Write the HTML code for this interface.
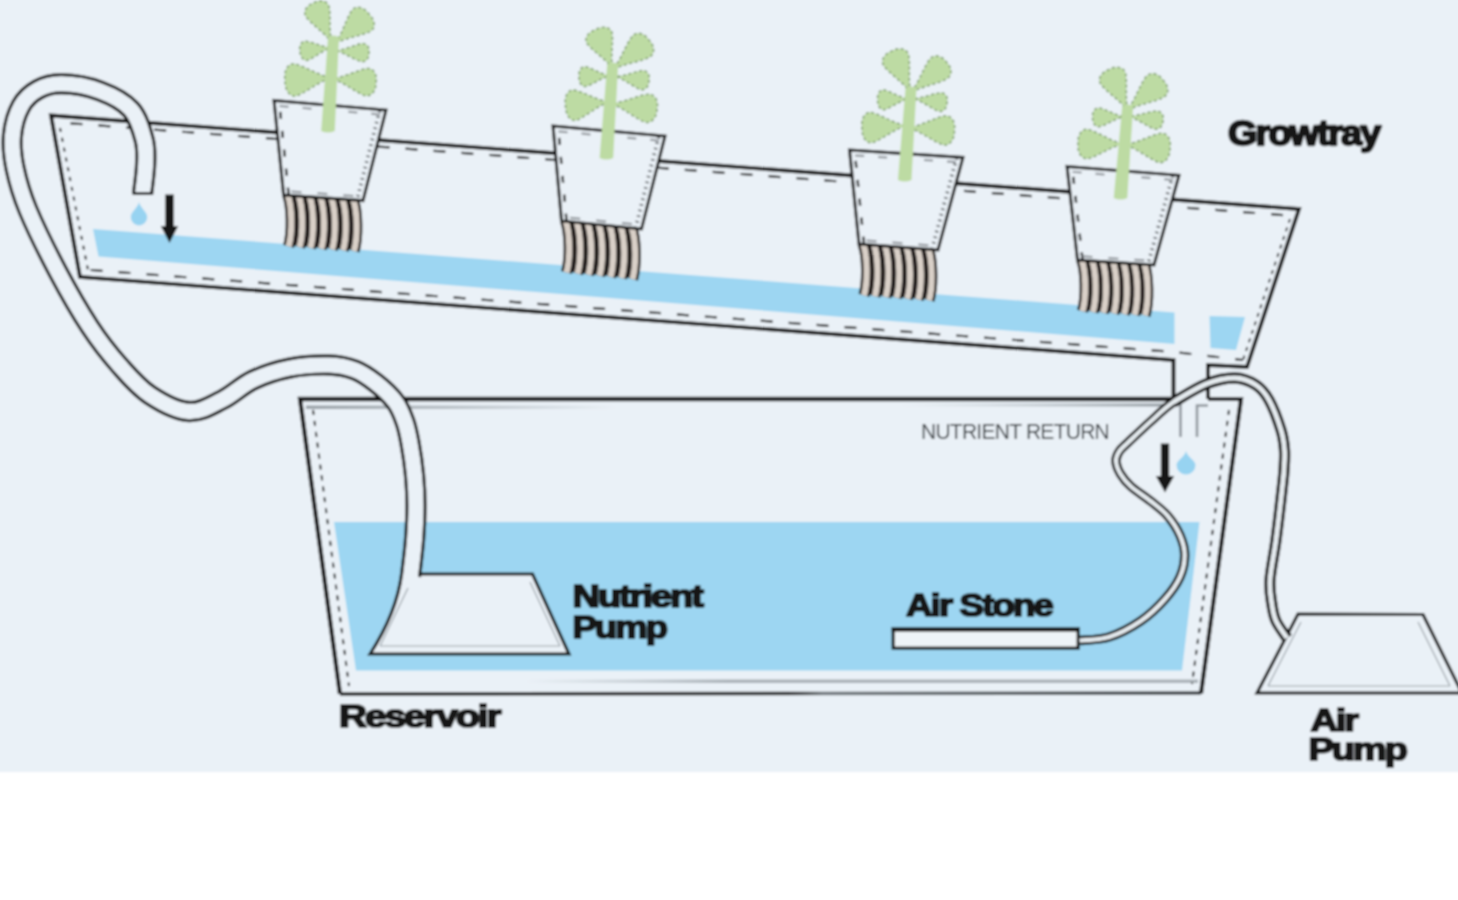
<!DOCTYPE html>
<html lang="en">
<head>
<meta charset="utf-8">
<title>NFT Hydroponic System Diagram</title>
<style>
html,body{margin:0;padding:0;background:#ffffff;}
body{width:1458px;height:900px;overflow:hidden;position:relative;}
svg{position:absolute;left:0;top:0;display:block;}
text{font-family:"Liberation Sans",sans-serif;}
</style>
</head>
<body>
<svg width="1458" height="900" viewBox="0 0 1458 900">
<filter id="soft" filterUnits="userSpaceOnUse" x="-40" y="-40" width="1540" height="980"><feGaussianBlur stdDeviation="0.95"/></filter>
<g filter="url(#soft)">
<rect x="-30" y="-30" width="1518" height="802" fill="#eaf1f7"/>
<polygon points="334,522 1199.5,522 1182,670.5 356,670.5" fill="#9dd6f2"/>
<defs><linearGradient id="g1" x1="0" x2="1"><stop offset="0" stop-color="#9aa2a8"/><stop offset="0.45" stop-color="#b9c1c7"/><stop offset="1" stop-color="#b9c1c7" stop-opacity="0"/></linearGradient><linearGradient id="g2" x1="0" x2="1"><stop offset="0" stop-color="#b9c1c7" stop-opacity="0"/><stop offset="1" stop-color="#8f979d"/></linearGradient><linearGradient id="g3" x1="0" x2="1"><stop offset="0" stop-color="#b9c1c7" stop-opacity="0"/><stop offset="0.3" stop-color="#aab2b8"/><stop offset="1" stop-color="#aab2b8"/></linearGradient><linearGradient id="g4" x1="0" x2="1"><stop offset="0" stop-color="#1c1c1c"/><stop offset="0.52" stop-color="#1c1c1c"/><stop offset="0.56" stop-color="#70777c"/><stop offset="1" stop-color="#3a3f43"/></linearGradient></defs>
<rect x="306" y="405.5" width="310" height="3.5" fill="url(#g1)"/>
<rect x="900" y="403.5" width="272" height="3" fill="url(#g2)"/>
<rect x="526" y="679.5" width="672" height="3.5" fill="url(#g3)"/>
<path d="M1173.5 399 L300 399 L340 694" fill="none" stroke="#141414" stroke-width="4.3" stroke-linejoin="miter"/>
<path d="M340 694 L1201 693" fill="none" stroke="url(#g4)" stroke-width="3.4"/>
<path d="M1201 693.5 L1241 399 L1208 399" fill="none" stroke="#141414" stroke-width="4.2" stroke-linejoin="miter"/>
<path d="M313 410 L349 686" fill="none" stroke="#141414" stroke-width="2" stroke-dasharray="5 6"/>
<path d="M1229 410 L1192 684" fill="none" stroke="#141414" stroke-width="2" stroke-dasharray="5 6"/>
<polygon points="93,229 1174.5,312.5 1174.5,344 98.5,256.5" fill="#9dd6f2"/>
<polygon points="1209.5,316 1245,317 1236,350 1210.5,348" fill="#9dd6f2"/>
<path d="M1173.5 399 L1173.5 360 L80 277 L51 115.5 L1299 209 L1247 367 L1208 365 L1208 399" fill="none" stroke="#141414" stroke-width="3.9" stroke-linejoin="miter"/>
<path d="M62.5 122.7 L1284.5 215.2" fill="none" stroke="#141414" stroke-width="2.2" stroke-dasharray="12 16" stroke-dashoffset="-8"/>
<path d="M90.6 270.0 L1174.1 352.0 L1243 360" fill="none" stroke="#141414" stroke-width="2.2" stroke-dasharray="12 16"/>
<path d="M60 128 L88 270" fill="none" stroke="#141414" stroke-width="2" stroke-dasharray="4 6"/>
<path d="M1290 219 L1243 360" fill="none" stroke="#141414" stroke-width="1.8" stroke-dasharray="4 5"/>
<path d="M1180.5 400 V437 M1197 437 V405.5 H1208" fill="none" stroke="#8e959b" stroke-width="2.6"/>
<path d="M287.6 194.4 C292.1 206.4 292.6 232.4 288.6 246.4" fill="none" stroke="#241f1b" stroke-width="11.4"/>
<path d="M287.6 194.4 C292.1 206.4 292.6 232.4 288.6 246.4" fill="none" stroke="#d9d0c8" stroke-width="6"/>
<path d="M298.5 195.1 C303.0 207.1 303.5 233.1 299.5 247.1" fill="none" stroke="#241f1b" stroke-width="11.4"/>
<path d="M298.5 195.1 C303.0 207.1 303.5 233.1 299.5 247.1" fill="none" stroke="#d9d0c8" stroke-width="6"/>
<path d="M309.4 195.9 C313.9 207.9 314.4 233.9 310.4 247.9" fill="none" stroke="#241f1b" stroke-width="11.4"/>
<path d="M309.4 195.9 C313.9 207.9 314.4 233.9 310.4 247.9" fill="none" stroke="#d9d0c8" stroke-width="6"/>
<path d="M320.3 196.7 C324.8 208.7 325.3 234.7 321.3 248.7" fill="none" stroke="#241f1b" stroke-width="11.4"/>
<path d="M320.3 196.7 C324.8 208.7 325.3 234.7 321.3 248.7" fill="none" stroke="#d9d0c8" stroke-width="6"/>
<path d="M331.2 197.4 C335.7 209.4 336.2 235.4 332.2 249.4" fill="none" stroke="#241f1b" stroke-width="11.4"/>
<path d="M331.2 197.4 C335.7 209.4 336.2 235.4 332.2 249.4" fill="none" stroke="#d9d0c8" stroke-width="6"/>
<path d="M342.1 198.2 C346.6 210.2 347.1 236.2 343.1 250.2" fill="none" stroke="#241f1b" stroke-width="11.4"/>
<path d="M342.1 198.2 C346.6 210.2 347.1 236.2 343.1 250.2" fill="none" stroke="#d9d0c8" stroke-width="6"/>
<path d="M353.0 199.0 C357.5 211.0 358.0 237.0 354.0 251.0" fill="none" stroke="#241f1b" stroke-width="11.4"/>
<path d="M353.0 199.0 C357.5 211.0 358.0 237.0 354.0 251.0" fill="none" stroke="#d9d0c8" stroke-width="6"/>
<polygon points="274.0,100.4 386.0,110.0 363.0,200.6 283.6,195.0" fill="#eaf1f7" stroke="#141414" stroke-width="3" stroke-linejoin="miter"/>
<path d="M273.6 105.4 L385.6 115.0" fill="none" stroke="#8a8f94" stroke-width="2" stroke-dasharray="9 14" stroke-dashoffset="-6"/>
<path d="M288.6 194.5 L279.0 99.9" fill="none" stroke="#141414" stroke-width="2.4" stroke-dasharray="7 12"/>
<path d="M380.2 108.5 L357.2 199.1" fill="none" stroke="#4a4d50" stroke-width="3.6" stroke-dasharray="1.6 4.2" stroke-dashoffset="-8"/>
<path d="M363.3 196.6 L283.9 191.0" fill="none" stroke="#8a8f94" stroke-width="2" stroke-dasharray="10 16" stroke-dashoffset="-10"/>
<path d="M331.3 41.9 C329.1 28.5 330.8 16.8 329.2 7.2 C327.5 0.0 319.4 -0.6 313.5 3.0 C306.9 5.1 302.1 11.7 306.4 17.6 C312.7 25.2 322.7 31.5 331.3 41.9Z" fill="#bddba3" stroke="#7f9f6c" stroke-width="1.6" stroke-dasharray="3 2.6"/>
<path d="M335.5 43.2 C348.3 37.2 360.9 35.9 370.1 31.6 C376.8 28.0 374.7 19.3 369.0 14.0 C364.6 7.7 356.2 4.3 351.7 10.5 C346.1 19.1 343.2 31.3 335.5 43.2Z" fill="#bddba3" stroke="#7f9f6c" stroke-width="1.6" stroke-dasharray="3 2.6"/>
<path d="M330.2 47.7 C320.7 46.2 313.1 42.2 306.1 41.2 C300.9 40.7 298.8 46.4 300.0 51.5 C300.1 56.8 303.6 61.8 308.5 60.0 C314.9 57.3 321.3 51.5 330.2 47.7Z" fill="#bddba3" stroke="#7f9f6c" stroke-width="1.6" stroke-dasharray="3 2.6"/>
<path d="M336.6 50.8 C346.3 54.0 353.5 59.2 360.6 61.5 C365.9 62.9 369.3 58.0 369.0 53.0 C369.9 48.1 367.3 42.8 361.8 43.5 C354.5 44.8 346.7 49.0 336.6 50.8Z" fill="#bddba3" stroke="#7f9f6c" stroke-width="1.6" stroke-dasharray="3 2.6"/>
<path d="M330.4 77.8 C316.2 74.2 305.2 66.5 295.0 63.9 C287.3 62.4 283.6 71.8 285.0 80.5 C284.7 89.3 289.4 98.2 296.9 95.8 C306.8 92.0 316.8 83.1 330.4 77.8Z" fill="#bddba3" stroke="#7f9f6c" stroke-width="1.6" stroke-dasharray="3 2.6"/>
<path d="M332.8 78.7 C345.6 83.8 354.9 91.7 364.3 95.4 C371.3 97.7 376.1 90.5 376.0 83.0 C377.5 75.7 374.3 67.6 366.9 68.5 C357.1 70.3 346.4 76.2 332.8 78.7Z" fill="#bddba3" stroke="#7f9f6c" stroke-width="1.6" stroke-dasharray="3 2.6"/>
<path d="M321.2 131.0 L328.0 37.0 Q333.5 34.0 339.0 37.0 L334.8 131.0 Q328.0 134.0 321.2 131.0 Z" fill="#bddba3"/>
<path d="M565.5 220.5 C570.0 232.5 570.5 258.5 566.5 272.5" fill="none" stroke="#241f1b" stroke-width="11.4"/>
<path d="M565.5 220.5 C570.0 232.5 570.5 258.5 566.5 272.5" fill="none" stroke="#d9d0c8" stroke-width="6"/>
<path d="M576.5 221.6 C581.0 233.6 581.5 259.6 577.5 273.6" fill="none" stroke="#241f1b" stroke-width="11.4"/>
<path d="M576.5 221.6 C581.0 233.6 581.5 259.6 577.5 273.6" fill="none" stroke="#d9d0c8" stroke-width="6"/>
<path d="M587.5 222.7 C592.0 234.7 592.5 260.7 588.5 274.7" fill="none" stroke="#241f1b" stroke-width="11.4"/>
<path d="M587.5 222.7 C592.0 234.7 592.5 260.7 588.5 274.7" fill="none" stroke="#d9d0c8" stroke-width="6"/>
<path d="M598.5 223.8 C603.0 235.8 603.5 261.8 599.5 275.8" fill="none" stroke="#241f1b" stroke-width="11.4"/>
<path d="M598.5 223.8 C603.0 235.8 603.5 261.8 599.5 275.8" fill="none" stroke="#d9d0c8" stroke-width="6"/>
<path d="M609.5 224.9 C614.0 236.9 614.5 262.9 610.5 276.9" fill="none" stroke="#241f1b" stroke-width="11.4"/>
<path d="M609.5 224.9 C614.0 236.9 614.5 262.9 610.5 276.9" fill="none" stroke="#d9d0c8" stroke-width="6"/>
<path d="M620.5 226.0 C625.0 238.0 625.5 264.0 621.5 278.0" fill="none" stroke="#241f1b" stroke-width="11.4"/>
<path d="M620.5 226.0 C625.0 238.0 625.5 264.0 621.5 278.0" fill="none" stroke="#d9d0c8" stroke-width="6"/>
<path d="M631.5 227.1 C636.0 239.1 636.5 265.1 632.5 279.1" fill="none" stroke="#241f1b" stroke-width="11.4"/>
<path d="M631.5 227.1 C636.0 239.1 636.5 265.1 632.5 279.1" fill="none" stroke="#d9d0c8" stroke-width="6"/>
<polygon points="553.0,126.0 665.0,136.0 641.5,229.0 561.5,221.0" fill="#eaf1f7" stroke="#141414" stroke-width="3" stroke-linejoin="miter"/>
<path d="M552.6 131.0 L664.6 141.0" fill="none" stroke="#8a8f94" stroke-width="2" stroke-dasharray="9 14" stroke-dashoffset="-6"/>
<path d="M566.5 220.6 L558.0 125.6" fill="none" stroke="#141414" stroke-width="2.4" stroke-dasharray="7 12"/>
<path d="M659.2 134.5 L635.7 227.5" fill="none" stroke="#4a4d50" stroke-width="3.6" stroke-dasharray="1.6 4.2" stroke-dashoffset="-8"/>
<path d="M641.9 225.0 L561.9 217.0" fill="none" stroke="#8a8f94" stroke-width="2" stroke-dasharray="10 16" stroke-dashoffset="-10"/>
<path d="M612.2 67.8 C610.7 54.6 613.3 43.0 612.2 33.4 C610.9 26.4 602.3 25.9 595.8 29.5 C588.7 31.7 583.1 38.3 587.3 44.0 C593.5 51.5 603.7 57.6 612.2 67.8Z" fill="#bddba3" stroke="#7f9f6c" stroke-width="1.6" stroke-dasharray="3 2.6"/>
<path d="M613.4 69.2 C626.6 63.2 639.3 61.9 649.0 57.5 C655.9 53.9 654.4 45.2 649.0 40.0 C645.0 33.7 636.8 30.5 631.9 36.6 C625.7 45.1 621.9 57.3 613.4 69.2Z" fill="#bddba3" stroke="#7f9f6c" stroke-width="1.6" stroke-dasharray="3 2.6"/>
<path d="M609.2 75.9 C599.9 73.4 592.8 68.6 586.0 66.8 C581.0 65.7 578.3 71.4 579.0 76.7 C578.6 82.1 581.5 87.6 586.5 86.3 C593.2 84.1 600.1 78.9 609.2 75.9Z" fill="#bddba3" stroke="#7f9f6c" stroke-width="1.6" stroke-dasharray="3 2.6"/>
<path d="M616.6 76.7 C626.1 80.6 633.0 86.5 639.9 89.4 C645.2 91.2 648.9 86.3 649.0 81.0 C650.3 75.9 648.0 70.1 642.5 70.5 C635.0 71.5 626.9 75.4 616.6 76.7Z" fill="#bddba3" stroke="#7f9f6c" stroke-width="1.6" stroke-dasharray="3 2.6"/>
<path d="M608.2 102.1 C594.7 99.1 584.2 92.2 574.4 90.1 C567.1 89.0 564.0 97.9 565.5 106.0 C565.5 114.3 570.2 122.4 577.1 120.0 C586.3 116.2 595.5 107.5 608.2 102.1Z" fill="#bddba3" stroke="#7f9f6c" stroke-width="1.6" stroke-dasharray="3 2.6"/>
<path d="M611.6 103.6 C625.0 109.3 634.5 117.9 644.3 122.0 C651.6 124.6 656.8 117.2 657.0 109.5 C658.8 102.0 655.7 93.5 647.9 94.2 C637.5 95.6 626.0 101.5 611.6 103.6Z" fill="#bddba3" stroke="#7f9f6c" stroke-width="1.6" stroke-dasharray="3 2.6"/>
<path d="M599.6 158.0 L607.2 64.0 Q612.7 61.0 618.2 64.0 L613.2 158.0 Q606.4 161.0 599.6 158.0 Z" fill="#bddba3"/>
<path d="M863.0 243.4 C867.5 255.4 868.0 281.4 864.0 295.4" fill="none" stroke="#241f1b" stroke-width="11.4"/>
<path d="M863.0 243.4 C867.5 255.4 868.0 281.4 864.0 295.4" fill="none" stroke="#d9d0c8" stroke-width="6"/>
<path d="M873.8 244.2 C878.3 256.2 878.8 282.2 874.8 296.2" fill="none" stroke="#241f1b" stroke-width="11.4"/>
<path d="M873.8 244.2 C878.3 256.2 878.8 282.2 874.8 296.2" fill="none" stroke="#d9d0c8" stroke-width="6"/>
<path d="M884.7 245.0 C889.2 257.0 889.7 283.0 885.7 297.0" fill="none" stroke="#241f1b" stroke-width="11.4"/>
<path d="M884.7 245.0 C889.2 257.0 889.7 283.0 885.7 297.0" fill="none" stroke="#d9d0c8" stroke-width="6"/>
<path d="M895.5 245.8 C900.0 257.8 900.5 283.8 896.5 297.8" fill="none" stroke="#241f1b" stroke-width="11.4"/>
<path d="M895.5 245.8 C900.0 257.8 900.5 283.8 896.5 297.8" fill="none" stroke="#d9d0c8" stroke-width="6"/>
<path d="M906.3 246.7 C910.8 258.7 911.3 284.7 907.3 298.7" fill="none" stroke="#241f1b" stroke-width="11.4"/>
<path d="M906.3 246.7 C910.8 258.7 911.3 284.7 907.3 298.7" fill="none" stroke="#d9d0c8" stroke-width="6"/>
<path d="M917.2 247.5 C921.7 259.5 922.2 285.5 918.2 299.5" fill="none" stroke="#241f1b" stroke-width="11.4"/>
<path d="M917.2 247.5 C921.7 259.5 922.2 285.5 918.2 299.5" fill="none" stroke="#d9d0c8" stroke-width="6"/>
<path d="M928.0 248.3 C932.5 260.3 933.0 286.3 929.0 300.3" fill="none" stroke="#241f1b" stroke-width="11.4"/>
<path d="M928.0 248.3 C932.5 260.3 933.0 286.3 929.0 300.3" fill="none" stroke="#d9d0c8" stroke-width="6"/>
<polygon points="849.5,150.0 963.0,157.5 938.0,250.0 859.0,244.0" fill="#eaf1f7" stroke="#141414" stroke-width="3" stroke-linejoin="miter"/>
<path d="M849.2 155.0 L962.7 162.5" fill="none" stroke="#8a8f94" stroke-width="2" stroke-dasharray="9 14" stroke-dashoffset="-6"/>
<path d="M864.0 243.5 L854.5 149.5" fill="none" stroke="#141414" stroke-width="2.4" stroke-dasharray="7 12"/>
<path d="M957.2 155.9 L932.2 248.4" fill="none" stroke="#4a4d50" stroke-width="3.6" stroke-dasharray="1.6 4.2" stroke-dashoffset="-8"/>
<path d="M938.3 246.0 L859.3 240.0" fill="none" stroke="#8a8f94" stroke-width="2" stroke-dasharray="10 16" stroke-dashoffset="-10"/>
<path d="M910.4 92.0 C908.2 78.0 910.4 65.6 908.7 55.4 C907.2 47.9 898.4 47.2 892.0 51.0 C884.9 53.3 879.6 60.2 884.1 66.4 C890.6 74.4 901.3 81.0 910.4 92.0Z" fill="#bddba3" stroke="#7f9f6c" stroke-width="1.6" stroke-dasharray="3 2.6"/>
<path d="M911.4 92.2 C924.5 85.8 937.0 83.9 946.5 79.1 C953.3 75.3 951.7 66.8 946.4 62.0 C942.4 56.0 934.3 53.2 929.5 59.4 C923.4 68.1 919.7 80.2 911.4 92.2Z" fill="#bddba3" stroke="#7f9f6c" stroke-width="1.6" stroke-dasharray="3 2.6"/>
<path d="M907.2 98.9 C898.1 96.5 891.0 91.7 884.4 90.0 C879.4 89.0 876.9 94.7 877.6 100.0 C877.2 105.4 880.2 110.8 885.1 109.5 C891.6 107.3 898.2 102.0 907.2 98.9Z" fill="#bddba3" stroke="#7f9f6c" stroke-width="1.6" stroke-dasharray="3 2.6"/>
<path d="M914.6 98.7 C924.2 102.6 931.0 108.3 938.0 111.1 C943.2 112.9 946.9 108.1 947.0 103.0 C948.3 98.0 946.0 92.4 940.4 92.8 C933.0 93.7 924.8 97.4 914.6 98.7Z" fill="#bddba3" stroke="#7f9f6c" stroke-width="1.6" stroke-dasharray="3 2.6"/>
<path d="M905.2 125.8 C891.8 122.3 881.4 115.0 871.7 112.5 C864.4 111.1 860.8 119.8 862.0 128.0 C861.6 136.3 866.0 144.6 873.1 142.5 C882.6 139.0 892.2 130.7 905.2 125.8Z" fill="#bddba3" stroke="#7f9f6c" stroke-width="1.6" stroke-dasharray="3 2.6"/>
<path d="M909.1 127.8 C922.7 132.8 932.6 141.1 942.5 144.7 C949.9 147.0 954.7 139.0 954.4 131.0 C955.8 123.1 952.2 114.6 944.5 115.8 C934.3 117.9 923.3 124.7 909.1 127.8Z" fill="#bddba3" stroke="#7f9f6c" stroke-width="1.6" stroke-dasharray="3 2.6"/>
<path d="M897.9 180.0 L905.5 88.0 Q911.0 85.0 916.5 88.0 L911.5 180.0 Q904.7 183.0 897.9 180.0 Z" fill="#bddba3"/>
<path d="M1081.5 259.3 C1086.0 271.3 1086.5 297.3 1082.5 311.3" fill="none" stroke="#241f1b" stroke-width="11.4"/>
<path d="M1081.5 259.3 C1086.0 271.3 1086.5 297.3 1082.5 311.3" fill="none" stroke="#d9d0c8" stroke-width="6"/>
<path d="M1091.9 260.0 C1096.4 272.0 1096.9 298.0 1092.9 312.0" fill="none" stroke="#241f1b" stroke-width="11.4"/>
<path d="M1091.9 260.0 C1096.4 272.0 1096.9 298.0 1092.9 312.0" fill="none" stroke="#d9d0c8" stroke-width="6"/>
<path d="M1102.3 260.7 C1106.8 272.7 1107.3 298.7 1103.3 312.7" fill="none" stroke="#241f1b" stroke-width="11.4"/>
<path d="M1102.3 260.7 C1106.8 272.7 1107.3 298.7 1103.3 312.7" fill="none" stroke="#d9d0c8" stroke-width="6"/>
<path d="M1112.8 261.4 C1117.2 273.4 1117.8 299.4 1113.8 313.4" fill="none" stroke="#241f1b" stroke-width="11.4"/>
<path d="M1112.8 261.4 C1117.2 273.4 1117.8 299.4 1113.8 313.4" fill="none" stroke="#d9d0c8" stroke-width="6"/>
<path d="M1123.2 262.1 C1127.7 274.1 1128.2 300.1 1124.2 314.1" fill="none" stroke="#241f1b" stroke-width="11.4"/>
<path d="M1123.2 262.1 C1127.7 274.1 1128.2 300.1 1124.2 314.1" fill="none" stroke="#d9d0c8" stroke-width="6"/>
<path d="M1133.6 262.7 C1138.1 274.7 1138.6 300.7 1134.6 314.7" fill="none" stroke="#241f1b" stroke-width="11.4"/>
<path d="M1133.6 262.7 C1138.1 274.7 1138.6 300.7 1134.6 314.7" fill="none" stroke="#d9d0c8" stroke-width="6"/>
<path d="M1144.0 263.4 C1148.5 275.4 1149.0 301.4 1145.0 315.4" fill="none" stroke="#241f1b" stroke-width="11.4"/>
<path d="M1144.0 263.4 C1148.5 275.4 1149.0 301.4 1145.0 315.4" fill="none" stroke="#d9d0c8" stroke-width="6"/>
<polygon points="1067.0,166.4 1179.0,175.3 1154.0,265.0 1077.5,260.0" fill="#eaf1f7" stroke="#141414" stroke-width="3" stroke-linejoin="miter"/>
<path d="M1066.6 171.4 L1178.6 180.3" fill="none" stroke="#8a8f94" stroke-width="2" stroke-dasharray="9 14" stroke-dashoffset="-6"/>
<path d="M1082.5 259.4 L1072.0 165.8" fill="none" stroke="#141414" stroke-width="2.4" stroke-dasharray="7 12"/>
<path d="M1173.2 173.7 L1148.2 263.4" fill="none" stroke="#4a4d50" stroke-width="3.6" stroke-dasharray="1.6 4.2" stroke-dashoffset="-8"/>
<path d="M1154.3 261.0 L1077.8 256.0" fill="none" stroke="#8a8f94" stroke-width="2" stroke-dasharray="10 16" stroke-dashoffset="-10"/>
<path d="M1127.4 110.0 C1125.2 96.1 1127.3 83.8 1125.7 73.7 C1124.1 66.3 1115.4 65.7 1109.0 69.5 C1101.9 71.8 1096.6 78.7 1101.1 84.8 C1107.7 92.7 1118.3 99.2 1127.4 110.0Z" fill="#bddba3" stroke="#7f9f6c" stroke-width="1.6" stroke-dasharray="3 2.6"/>
<path d="M1127.4 110.2 C1140.7 103.9 1153.5 102.2 1163.2 97.6 C1170.1 93.8 1168.5 85.1 1163.0 80.0 C1158.9 73.8 1150.6 70.7 1145.7 77.0 C1139.5 85.8 1135.8 98.1 1127.4 110.2Z" fill="#bddba3" stroke="#7f9f6c" stroke-width="1.6" stroke-dasharray="3 2.6"/>
<path d="M1123.3 116.6 C1113.8 114.3 1106.6 109.7 1099.7 108.0 C1094.6 107.1 1091.9 112.4 1092.6 117.5 C1092.2 122.6 1095.2 127.8 1100.2 126.5 C1107.0 124.5 1114.0 119.5 1123.3 116.6Z" fill="#bddba3" stroke="#7f9f6c" stroke-width="1.6" stroke-dasharray="3 2.6"/>
<path d="M1129.5 116.4 C1139.4 120.3 1146.5 126.0 1153.7 128.8 C1159.1 130.6 1162.9 126.0 1163.0 121.0 C1164.3 116.2 1161.9 110.7 1156.2 111.0 C1148.5 111.7 1140.1 115.3 1129.5 116.4Z" fill="#bddba3" stroke="#7f9f6c" stroke-width="1.6" stroke-dasharray="3 2.6"/>
<path d="M1122.3 144.0 C1108.8 139.9 1098.5 132.4 1088.7 129.5 C1081.3 127.8 1077.2 136.0 1078.0 144.0 C1077.2 152.0 1081.3 160.2 1088.7 158.5 C1098.5 155.6 1108.8 148.1 1122.3 144.0Z" fill="#bddba3" stroke="#7f9f6c" stroke-width="1.6" stroke-dasharray="3 2.6"/>
<path d="M1125.7 144.7 C1138.9 150.0 1148.5 158.4 1158.0 162.2 C1165.3 164.6 1170.1 156.7 1170.0 148.7 C1171.5 140.8 1168.2 132.2 1160.6 133.3 C1150.5 135.3 1139.6 141.9 1125.7 144.7Z" fill="#bddba3" stroke="#7f9f6c" stroke-width="1.6" stroke-dasharray="3 2.6"/>
<path d="M1113.7 198.0 L1122.2 106.0 Q1127.7 103.0 1133.2 106.0 L1127.3 198.0 Q1120.5 201.0 1113.7 198.0 Z" fill="#bddba3"/>
<path d="M419 574 L532.5 574 L569 654 L370 654 Q396.5 613 401.6 574" fill="#eaf1f7" stroke="#141414" stroke-width="3.2" stroke-linejoin="miter"/>
<path d="M142.5 194.0 C143.0 189.2 145.3 174.0 145.6 165.0 C145.9 156.0 146.6 149.2 144.2 140.0 C141.8 130.8 138.4 117.7 131.0 109.5 C123.6 101.3 111.5 95.3 100.0 91.0 C88.5 86.7 72.3 84.0 62.0 83.8 C51.7 83.5 44.8 85.8 38.0 89.5 C31.2 93.2 25.2 98.4 21.0 106.0 C16.8 113.6 13.5 124.7 12.5 135.0 C11.5 145.3 12.4 155.5 15.0 168.0 C17.6 180.5 20.8 192.7 28.0 210.0 C35.2 227.3 47.7 252.5 58.0 272.0 C68.3 291.5 79.7 311.3 90.0 327.0 C100.3 342.7 110.0 354.7 120.0 366.0 C130.0 377.3 138.5 387.4 150.0 395.0 C161.5 402.6 177.0 410.7 189.0 411.5 C201.0 412.3 211.3 405.2 222.0 400.0 C232.7 394.8 241.7 385.3 253.0 380.0 C264.3 374.7 277.3 370.5 290.0 368.0 C302.7 365.5 318.2 364.7 329.0 365.0 C339.8 365.3 347.2 367.0 355.0 370.0 C362.8 373.0 369.2 377.7 376.0 383.0 C382.8 388.3 390.7 395.5 395.5 402.0 C400.3 408.5 402.6 415.2 405.0 422.0 C407.4 428.8 408.4 434.2 410.0 443.0 C411.6 451.8 413.5 464.7 414.5 475.0 C415.5 485.3 416.0 494.2 416.0 505.0 C416.0 515.8 415.4 528.2 414.5 540.0 C413.6 551.8 411.2 570.0 410.5 576.0" fill="none" stroke="#141414" stroke-width="21.4" stroke-linecap="butt"/>
<path d="M142.5 194.0 C143.0 189.2 145.3 174.0 145.6 165.0 C145.9 156.0 146.6 149.2 144.2 140.0 C141.8 130.8 138.4 117.7 131.0 109.5 C123.6 101.3 111.5 95.3 100.0 91.0 C88.5 86.7 72.3 84.0 62.0 83.8 C51.7 83.5 44.8 85.8 38.0 89.5 C31.2 93.2 25.2 98.4 21.0 106.0 C16.8 113.6 13.5 124.7 12.5 135.0 C11.5 145.3 12.4 155.5 15.0 168.0 C17.6 180.5 20.8 192.7 28.0 210.0 C35.2 227.3 47.7 252.5 58.0 272.0 C68.3 291.5 79.7 311.3 90.0 327.0 C100.3 342.7 110.0 354.7 120.0 366.0 C130.0 377.3 138.5 387.4 150.0 395.0 C161.5 402.6 177.0 410.7 189.0 411.5 C201.0 412.3 211.3 405.2 222.0 400.0 C232.7 394.8 241.7 385.3 253.0 380.0 C264.3 374.7 277.3 370.5 290.0 368.0 C302.7 365.5 318.2 364.7 329.0 365.0 C339.8 365.3 347.2 367.0 355.0 370.0 C362.8 373.0 369.2 377.7 376.0 383.0 C382.8 388.3 390.7 395.5 395.5 402.0 C400.3 408.5 402.6 415.2 405.0 422.0 C407.4 428.8 408.4 434.2 410.0 443.0 C411.6 451.8 413.5 464.7 414.5 475.0 C415.5 485.3 416.0 494.2 416.0 505.0 C416.0 515.8 415.4 528.2 414.5 540.0 C413.6 551.8 411.2 570.0 410.5 576.0 L410 590" fill="none" stroke="#eaf1f7" stroke-width="15" stroke-linecap="butt"/>
<path d="M132.5 193.5 H153" stroke="#141414" stroke-width="3" fill="none"/>
<path d="M380 646 L408 588 M530 582 L560 646 M380 646 H560" fill="none" stroke="#9aa2a8" stroke-width="1.2"/>
<path d="M139.0 202.0 C138.0 207.9 130.8 211.4 130.8 217.2 A8.2 8.2 0 1 0 147.2 217.2 C147.2 211.4 140.0 207.9 139.0 202.0Z" fill="#97d3f1"/>
<path d="M165.2 194.5 H173.8 V226.0 H178.2 L169.5 243.0 L160.8 226.0 H165.2Z" fill="#141414"/>
<path d="M1186.0 451.0 C1185.0 456.9 1176.5 460.4 1176.5 465.0 A9.5 9.5 0 1 0 1195.5 465.0 C1195.5 460.4 1187.0 456.9 1186.0 451.0Z" fill="#97d3f1"/>
<path d="M1160.8 443.5 H1169.2 V476.0 H1174.2 L1165.0 492.5 L1155.8 476.0 H1160.8Z" fill="#141414"/>
<rect x="893.2" y="629" width="185" height="19.2" fill="#eef4f8" stroke="#141414" stroke-width="3.2"/>
<rect x="891.6" y="627" width="188.2" height="4.6" fill="#141414"/>
<path d="M1298 614 L1423 614.5 L1462 693 L1257 693 Z" fill="#eaf1f7" stroke="#141414" stroke-width="3.2" stroke-linejoin="miter"/>
<path d="M1268 686 L1301 622 M1418 622 L1450 686 M1268 686 H1450" fill="none" stroke="#9aa2a8" stroke-width="1.2"/>
<path d="M1173.5 402.0 C1178.9 399.0 1195.8 388.0 1206.0 384.0 C1216.2 380.0 1226.7 377.8 1235.0 378.0 C1243.3 378.2 1250.3 381.3 1256.0 385.0 C1261.7 388.7 1264.8 392.5 1269.0 400.0 C1273.2 407.5 1278.4 421.7 1281.0 430.0 C1283.6 438.3 1284.0 443.3 1284.5 450.0 C1285.0 456.7 1284.4 463.3 1284.0 470.0 C1283.6 476.7 1283.3 478.3 1282.0 490.0 C1280.7 501.7 1278.0 525.0 1276.0 540.0 C1274.0 555.0 1270.7 569.2 1270.0 580.0 C1269.3 590.8 1271.0 598.2 1272.0 605.0 C1273.0 611.8 1273.5 615.5 1276.0 621.0 C1278.5 626.5 1285.2 635.2 1287.0 638.0" fill="none" stroke="#141414" stroke-width="11.4"/>
<path d="M1079.6 640.5 C1084.5 639.9 1098.8 640.2 1109.0 637.0 C1119.2 633.8 1131.4 627.3 1140.7 621.0 C1150.0 614.7 1158.5 606.3 1165.0 599.0 C1171.5 591.7 1176.7 584.3 1180.0 577.0 C1183.3 569.7 1184.7 561.9 1184.7 555.0 C1184.7 548.1 1182.8 541.9 1180.0 535.4 C1177.2 528.9 1172.5 521.5 1167.6 515.8 C1162.7 510.1 1156.6 505.9 1150.5 501.0 C1144.4 496.1 1136.0 491.0 1131.0 486.5 C1126.0 482.0 1123.0 478.2 1120.5 474.0 C1118.0 469.8 1116.2 464.8 1116.0 461.0 C1115.8 457.2 1117.5 454.1 1119.5 451.0 C1121.5 447.9 1122.9 447.3 1128.0 442.5 C1133.1 437.7 1142.4 428.8 1150.0 422.0 C1157.6 415.2 1164.2 408.3 1173.5 402.0 C1182.8 395.7 1200.6 387.0 1206.0 384.0" fill="none" stroke="#141414" stroke-width="9.6"/>
<path d="M1173.5 402.0 C1178.9 399.0 1195.8 388.0 1206.0 384.0 C1216.2 380.0 1226.7 377.8 1235.0 378.0 C1243.3 378.2 1250.3 381.3 1256.0 385.0 C1261.7 388.7 1264.8 392.5 1269.0 400.0 C1273.2 407.5 1278.4 421.7 1281.0 430.0 C1283.6 438.3 1284.0 443.3 1284.5 450.0 C1285.0 456.7 1284.4 463.3 1284.0 470.0 C1283.6 476.7 1283.3 478.3 1282.0 490.0 C1280.7 501.7 1278.0 525.0 1276.0 540.0 C1274.0 555.0 1270.7 569.2 1270.0 580.0 C1269.3 590.8 1271.0 598.2 1272.0 605.0 C1273.0 611.8 1273.5 615.5 1276.0 621.0 C1278.5 626.5 1285.2 635.2 1287.0 638.0" fill="none" stroke="#e6ecf0" stroke-width="4.8"/>
<path d="M1079.6 640.5 C1084.5 639.9 1098.8 640.2 1109.0 637.0 C1119.2 633.8 1131.4 627.3 1140.7 621.0 C1150.0 614.7 1158.5 606.3 1165.0 599.0 C1171.5 591.7 1176.7 584.3 1180.0 577.0 C1183.3 569.7 1184.7 561.9 1184.7 555.0 C1184.7 548.1 1182.8 541.9 1180.0 535.4 C1177.2 528.9 1172.5 521.5 1167.6 515.8 C1162.7 510.1 1156.6 505.9 1150.5 501.0 C1144.4 496.1 1136.0 491.0 1131.0 486.5 C1126.0 482.0 1123.0 478.2 1120.5 474.0 C1118.0 469.8 1116.2 464.8 1116.0 461.0 C1115.8 457.2 1117.5 454.1 1119.5 451.0 C1121.5 447.9 1122.9 447.3 1128.0 442.5 C1133.1 437.7 1142.4 428.8 1150.0 422.0 C1157.6 415.2 1164.2 408.3 1173.5 402.0 C1182.8 395.7 1200.6 387.0 1206.0 384.0" fill="none" stroke="#e6ecf0" stroke-width="4.2"/>
<text x="1228.0" y="145.3" font-size="34.5" font-weight="bold" textLength="151.5" lengthAdjust="spacingAndGlyphs" fill="#141414" stroke="#141414" stroke-width="2.4" stroke-linejoin="round" letter-spacing="-1.6">Growtray</text>
<text x="572.5" y="607.3" font-size="31.0" font-weight="bold" textLength="129.5" lengthAdjust="spacingAndGlyphs" fill="#141414" stroke="#141414" stroke-width="2.0" stroke-linejoin="round" letter-spacing="-1.6">Nutrient</text>
<text x="572.5" y="637.5" font-size="31.0" font-weight="bold" textLength="93.5" lengthAdjust="spacingAndGlyphs" fill="#141414" stroke="#141414" stroke-width="2.0" stroke-linejoin="round" letter-spacing="-1.6">Pump</text>
<text x="906.0" y="615.8" font-size="31.5" font-weight="bold" textLength="146.0" lengthAdjust="spacingAndGlyphs" fill="#141414" stroke="#141414" stroke-width="2.0" stroke-linejoin="round" letter-spacing="-1.6">Air Stone</text>
<text x="339.0" y="727.0" font-size="31.0" font-weight="bold" textLength="160.5" lengthAdjust="spacingAndGlyphs" fill="#141414" stroke="#141414" stroke-width="2.0" stroke-linejoin="round" letter-spacing="-1.6">Reservoir</text>
<text x="1310.5" y="730.6" font-size="31.0" font-weight="bold" textLength="46.5" lengthAdjust="spacingAndGlyphs" fill="#141414" stroke="#141414" stroke-width="2.0" stroke-linejoin="round" letter-spacing="-1.6">Air</text>
<text x="1308.5" y="760.2" font-size="31.0" font-weight="bold" textLength="97.5" lengthAdjust="spacingAndGlyphs" fill="#141414" stroke="#141414" stroke-width="2.0" stroke-linejoin="round" letter-spacing="-1.6">Pump</text>
<text x="921.0" y="438.5" font-size="22.5" font-weight="normal" textLength="188.0" lengthAdjust="spacingAndGlyphs" fill="#33373b" letter-spacing="-0.8">NUTRIENT RETURN</text>
</g>
</svg>
</body>
</html>
